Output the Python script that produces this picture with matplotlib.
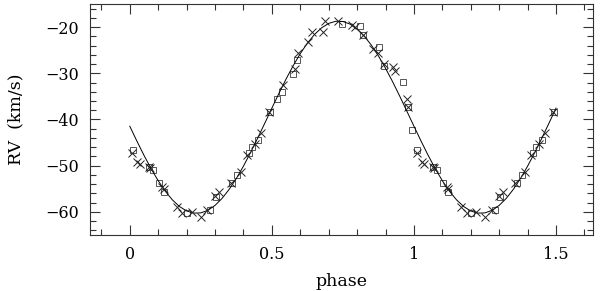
import matplotlib
matplotlib.use("Agg")
import matplotlib.pyplot as plt
import numpy as np
from matplotlib.ticker import MultipleLocator, FuncFormatter

# Observations (phase 0-1); points with phase < 0.5 are repeated at phase+1
cross_phase = [0.009, 0.027, 0.035, 0.067, 0.072, 0.115, 0.12, 0.167, 0.185, 0.22, 0.249,
               0.273, 0.30, 0.313, 0.355, 0.39, 0.413, 0.44, 0.46, 0.49,
               0.54, 0.58, 0.593, 0.628, 0.64, 0.681, 0.687, 0.734, 0.781, 0.792,
               0.822, 0.857, 0.874, 0.894, 0.927, 0.933, 0.974, 0.98]
cross_rv = [-47.3, -49.2, -49.6, -50.2, -50.6, -54.6, -55.0, -58.9, -60.2, -60.0, -61.2,
            -59.6, -56.5, -55.6, -53.8, -51.3, -47.7, -45.2, -43.0, -38.4,
            -32.6, -29.0, -25.7, -23.2, -21.1, -21.1, -18.6, -18.6, -19.6, -20.0,
            -21.8, -24.7, -25.7, -28.0, -28.6, -29.4, -35.5, -37.3]

square_phase = [0.011, 0.067, 0.081, 0.102, 0.12, 0.20, 0.284, 0.302, 0.361, 0.379,
                0.418, 0.431, 0.45, 0.494, 0.517, 0.535, 0.576, 0.587, 0.746, 0.81,
                0.822, 0.878, 0.894, 0.962, 0.98, 0.994]
square_rv = [-46.6, -50.2, -51.0, -53.8, -55.6, -60.3, -59.6, -56.7, -53.7, -52.0,
             -47.3, -45.9, -44.5, -38.4, -35.6, -34.0, -30.1, -27.2, -19.3, -19.8,
             -21.8, -24.4, -28.5, -31.9, -37.3, -42.3]

# Fitted curve (phase 0-1 in steps of 0.025)
curve_phase = [0.0, 0.025, 0.05, 0.075, 0.1, 0.125, 0.15, 0.175, 0.2, 0.225, 0.25,
               0.275, 0.3, 0.325, 0.35, 0.375, 0.4, 0.425, 0.45, 0.475, 0.5,
               0.525, 0.55, 0.575, 0.6, 0.625, 0.65, 0.675, 0.7, 0.725, 0.75,
               0.775, 0.8, 0.825, 0.85, 0.875, 0.9, 0.925, 0.95, 0.975]
curve_rv = [-41.46, -44.67, -47.76, -50.64, -53.26, -55.53, -57.40, -58.84, -59.80, -60.26, -60.21,
            -59.65, -58.59, -57.06, -55.10, -52.76, -50.09, -47.16, -44.04, -40.81, -37.54,
            -34.33, -31.24, -28.36, -25.74, -23.47, -21.60, -20.16, -19.20, -18.74, -18.79,
            -19.35, -20.41, -21.94, -23.90, -26.24, -28.91, -31.84, -34.96, -38.19]

x_ticks = [0, 0.5, 1, 1.5]
y_ticks = [-60, -50, -40, -30, -20]


def extend(ph, rv, upto=0.5):
    ph = np.asarray(ph, float)
    rv = np.asarray(rv, float)
    m = ph <= upto + 1e-9
    return np.concatenate([ph, ph[m] + 1]), np.concatenate([rv, rv[m]])


plt.rcParams['font.family'] = ['DejaVu Serif']
plt.rcParams['mathtext.fontset'] = 'dejavuserif'

fig = plt.figure(figsize=(6.0, 2.91), dpi=100)
ax = fig.add_axes([0.15, 0.1924, 0.8383, 0.7939])

cp, cr = extend(curve_phase, curve_rv)
order = np.argsort(cp)
ax.plot(cp[order], cr[order], color='black', lw=0.7, zorder=3)

sp, sr = extend(square_phase, square_rv)
ax.plot(sp, sr, ls='none', marker='s', mfc='none', mec='#555555', ms=4.5, mew=0.7, zorder=2)

xp, xr = extend(cross_phase, cross_rv)
ax.plot(xp, xr, ls='none', marker='x', color='#222222', ms=5.5, mew=0.7, zorder=4)

ax.set_xlim(-0.14, 1.63)
ax.set_ylim(-65, -15)
ax.set_xticks(x_ticks)
ax.set_yticks(y_ticks)
ax.xaxis.set_minor_locator(MultipleLocator(0.1))
ax.yaxis.set_minor_locator(MultipleLocator(2))
ax.xaxis.set_major_formatter(FuncFormatter(lambda v, p: f"{v:g}"))
ax.yaxis.set_major_formatter(FuncFormatter(lambda v, p: f"\u2212{abs(v):g}" if v < 0 else f"{v:g}"))

ax.tick_params(which='both', direction='in', top=True, right=True, labelsize=11.5,
               color='#333333', width=0.8)
ax.tick_params(which='major', length=7.5, pad=8)
ax.tick_params(which='minor', length=4.5)
for s in ax.spines.values():
    s.set_linewidth(0.8)
    s.set_color('#333333')

ax.set_xlabel('phase', fontsize=12.5, labelpad=7)
ax.set_ylabel('RV  (km/s)', fontsize=12.5, labelpad=15)

fig.savefig('out.png', dpi=100)
